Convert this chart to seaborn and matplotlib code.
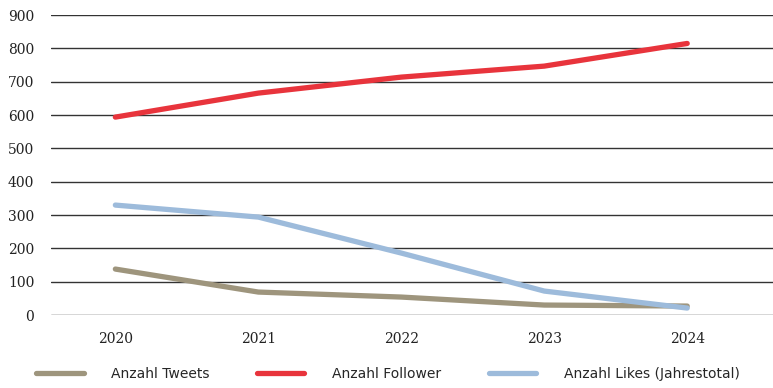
import matplotlib
matplotlib.use('Agg')
import matplotlib.pyplot as plt
import seaborn as sns
import pandas as pd
import numpy as np

# Values
years = ['2020', '2021', '2022', '2023', '2024']
tweets = [138, 69, 54, 30, 27]
follower = [594, 666, 714, 747, 815]
likes = [330, 294, 186, 72, 21]
series_names = ['Anzahl Tweets', 'Anzahl Follower', 'Anzahl Likes (Jahrestotal)']
colors = ['#9e957d', '#e8343c', '#9dbbdb']

df = pd.DataFrame({
    'Jahr': years * 3,
    'Wert': tweets + follower + likes,
    'Serie': [series_names[0]] * 5 + [series_names[1]] * 5 + [series_names[2]] * 5,
})

sns.set_style('white')
plt.rcParams['font.family'] = ['DejaVu Sans']

fig = plt.figure(figsize=(7.73, 3.88), dpi=100)
ax = fig.add_axes([0.066, 0.188, 0.934, 0.773])

sns.lineplot(data=df, x='Jahr', y='Wert', hue='Serie', palette=colors,
             linewidth=3.8, sort=False, ax=ax, solid_capstyle='round')

ax.set_ylim(0, 900)
ax.set_xlim(-0.45, 4.6)
ax.set_yticks(np.arange(0, 901, 100))
ax.yaxis.grid(True, color='#333333', linewidth=1.0)
ax.set_axisbelow(True)
for s in ax.spines.values():
    s.set_visible(False)
ax.tick_params(axis='both', length=0)
ax.tick_params(axis='y', pad=12)
ax.tick_params(axis='x', pad=12)
for lbl in ax.get_yticklabels() + ax.get_xticklabels():
    lbl.set_fontfamily('DejaVu Serif')
    lbl.set_fontsize(10)
    lbl.set_color('#222222')
ax.set_xlabel('')
ax.set_ylabel('')

handles, labels = ax.get_legend_handles_labels()
ax.get_legend().remove()
fig.legend(handles, labels, loc='lower left', bbox_to_anchor=(0.031, -0.015), ncol=3,
           frameon=False, fontsize=10, handlelength=3.4, handletextpad=2.0,
           columnspacing=3.4)

plt.savefig('out.png', dpi=100)
